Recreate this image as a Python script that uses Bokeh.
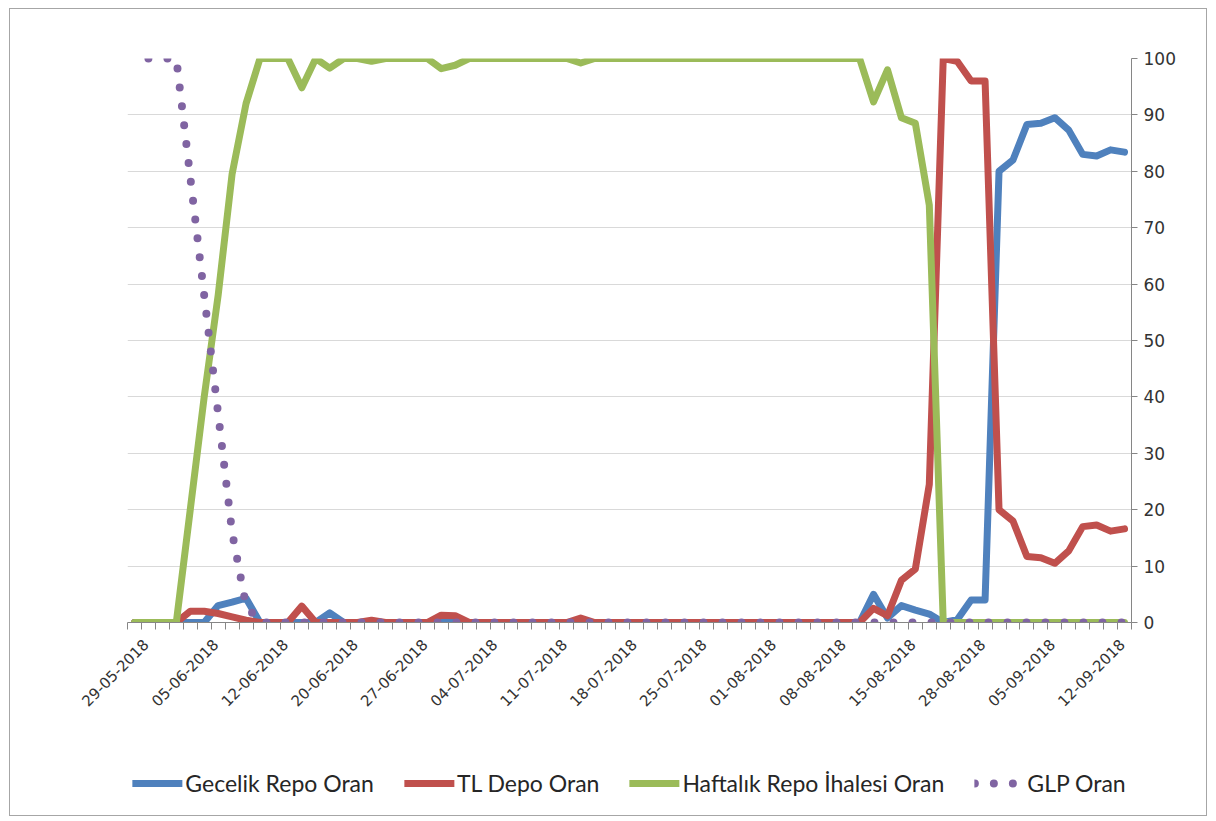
import math
import numpy as np
from bokeh.plotting import figure
from bokeh.layouts import column
from bokeh.models import FixedTicker, Legend, LegendItem
from bokeh.core.properties import value
from bokeh.embed import file_html
from bokeh.resources import INLINE

dates = [
    "29-05-2018", "30-05-2018", "31-05-2018", "01-06-2018", "04-06-2018",
    "05-06-2018", "06-06-2018", "07-06-2018", "08-06-2018", "11-06-2018",
    "12-06-2018", "13-06-2018", "14-06-2018", "18-06-2018", "19-06-2018",
    "20-06-2018", "21-06-2018", "22-06-2018", "25-06-2018", "26-06-2018",
    "27-06-2018", "28-06-2018", "29-06-2018", "02-07-2018", "03-07-2018",
    "04-07-2018", "05-07-2018", "06-07-2018", "09-07-2018", "10-07-2018",
    "11-07-2018", "12-07-2018", "13-07-2018", "16-07-2018", "17-07-2018",
    "18-07-2018", "19-07-2018", "20-07-2018", "23-07-2018", "24-07-2018",
    "25-07-2018", "26-07-2018", "27-07-2018", "30-07-2018", "31-07-2018",
    "01-08-2018", "02-08-2018", "03-08-2018", "06-08-2018", "07-08-2018",
    "08-08-2018", "09-08-2018", "10-08-2018", "13-08-2018", "14-08-2018",
    "15-08-2018", "16-08-2018", "17-08-2018", "20-08-2018", "27-08-2018",
    "28-08-2018", "29-08-2018", "31-08-2018", "03-09-2018", "04-09-2018",
    "05-09-2018", "06-09-2018", "07-09-2018", "10-09-2018", "11-09-2018",
    "12-09-2018", "13-09-2018",
]

gecelik = [
    0, 0, 0, 0, 0, 0, 3.0, 3.6, 4.3, 0,
    0, 0, 0, 0, 1.7, 0, 0, 0, 0, 0,
    0, 0, 0, 0, 0, 0, 0, 0, 0, 0,
    0, 0, 0, 0, 0, 0, 0, 0, 0, 0,
    0, 0, 0, 0, 0, 0, 0, 0, 0, 0,
    0, 0, 0, 5.0, 0.8, 3.0, 2.2, 1.5, 0, 0.5,
    4.0, 4.0, 80.0, 82.0, 88.3, 88.5, 89.5, 87.3, 83.0, 82.7,
    83.8, 83.4,
]

tl_depo = [
    0, 0, 0, 0, 2.0, 2.0, 1.6, 1.0, 0.4, 0,
    0, 0, 2.9, 0, 0, 0, 0, 0.4, 0, 0,
    0, 0, 1.3, 1.2, 0, 0, 0, 0, 0, 0,
    0, 0, 0.8, 0, 0, 0, 0, 0, 0, 0,
    0, 0, 0, 0, 0, 0, 0, 0, 0, 0,
    0, 0, 0, 2.5, 1.2, 7.5, 9.5, 24.5, 100.0, 99.5,
    96.0, 96.0, 20.0, 18.0, 11.7, 11.5, 10.5, 12.7, 17.0, 17.3,
    16.2, 16.6,
]

haftalik = [
    0, 0, 0, 0, 20, 40, 58, 79.5, 92, 100,
    100, 100, 94.8, 100, 98.3, 100, 100, 99.5, 100, 100,
    100, 100, 98.2, 98.8, 100, 100, 100, 100, 100, 100,
    100, 100, 99.2, 100, 100, 100, 100, 100, 100, 100,
    100, 100, 100, 100, 100, 100, 100, 100, 100, 100,
    100, 100, 100, 92.3, 98.0, 89.5, 88.5, 74.0, 0, 0,
    0, 0, 0, 0, 0, 0, 0, 0, 0, 0,
    0, 0,
]

glp = [
    np.nan, 100, 100, 100, 79, 58, 37, 16, 3, 0,
    0, 0, 0, 0, 0, 0, 0, 0, 0, 0,
    0, 0, 0, 0, 0, 0, 0, 0, 0, 0,
    0, 0, 0, 0, 0, 0, 0, 0, 0, 0,
    0, 0, 0, 0, 0, 0, 0, 0, 0, 0,
    0, 0, 0, 0, 0, 0, 0, 0, 0, 0,
    0, 0, 0, 0, 0, 0, 0, 0, 0, 0,
    0, 0,
]

series_names = ["Gecelik Repo Oran", "TL Depo Oran", "Haftalık Repo İhalesi Oran", "GLP Oran"]
y_ticks = [0, 10, 20, 30, 40, 50, 60, 70, 80, 90, 100]
label_step = 5
label_shift = 0.8  # rotated labels sit slightly right of their category, as in the original

styles = [
    dict(line_color="#4F81BD", line_width=7, line_join="round", line_cap="round"),
    dict(line_color="#C0504D", line_width=7, line_join="round", line_cap="round"),
    dict(line_color="#9BBB59", line_width=7, line_join="round", line_cap="round"),
    dict(line_color="#8064A2", line_width=8, line_dash="0 19", line_cap="round"),
]

n = len(dates)
x = np.arange(n)

p = figure(
    width=1196, height=741,
    output_backend="svg", toolbar_location=None,
    x_range=(-0.5, n - 0.5), y_range=(0, 100),
    y_axis_location="right",
    min_border_left=117, min_border_right=75,
    min_border_top=49, min_border_bottom=128,
)
p.outline_line_color = None
p.background_fill_color = "white"
p.border_fill_color = "white"

# x axis: labels at every 5th category, tick marks at category boundaries
label_pos = list(range(0, n, label_step))
p.xaxis.ticker = FixedTicker(ticks=[i + label_shift for i in label_pos],
                             minor_ticks=[i - 0.5 for i in range(n + 1)])
p.xaxis.major_label_overrides = {i + label_shift: dates[i] for i in label_pos}
p.xaxis.major_label_orientation = math.pi / 4
p.xaxis.major_tick_line_color = None
p.xaxis.minor_tick_line_color = "#868686"
p.xaxis.minor_tick_in = 0
p.xaxis.minor_tick_out = 7
p.xaxis.axis_line_color = "#868686"
p.xaxis.major_label_text_font = "DejaVu Sans"
p.xaxis.major_label_text_font_size = "15px"
p.xaxis.major_label_text_color = "#333333"
p.xaxis.major_label_standoff = 12
p.xgrid.visible = False

# y axis on the right
p.yaxis.ticker = FixedTicker(ticks=y_ticks)
p.yaxis.axis_line_color = "#868686"
p.yaxis.major_tick_line_color = "#868686"
p.yaxis.major_tick_in = 0
p.yaxis.major_tick_out = 6
p.yaxis.minor_tick_line_color = None
p.yaxis.major_label_text_font = "DejaVu Sans"
p.yaxis.major_label_text_font_size = "17px"
p.yaxis.major_label_text_color = "#333333"
p.yaxis.major_label_standoff = 6
p.ygrid.grid_line_color = "#D9D9D9"
p.ygrid.grid_line_width = 1

series = [gecelik, tl_depo, haftalik, glp]
for vals, st in zip(series, styles):
    p.line(x, np.array(vals, dtype=float), **st)

# legend strip below the chart: legend-only proxies carrying no drawable points
lf = figure(
    width=1196, height=65,
    output_backend="svg", toolbar_location=None,
    x_range=(0, 1), y_range=(0, 1),
    min_border=0,
)
lf.axis.visible = False
lf.grid.visible = False
lf.outline_line_color = None
lf.background_fill_color = "white"
lf.border_fill_color = "white"
nan_pair = np.array([np.nan, np.nan])
proxies = [lf.line(nan_pair, nan_pair, **st) for st in styles]

legend = Legend(
    items=[LegendItem(label=value(nm), renderers=[r]) for nm, r in zip(series_names, proxies)],
    orientation="horizontal",
    location="center",
    glyph_width=50, glyph_height=20,
    label_standoff=3, spacing=30,
    padding=0, margin=0,
    border_line_color=None, background_fill_alpha=0,
    label_text_font="Lato", label_text_font_size="23px",
    label_text_color="#262626",
)
lf.add_layout(legend)

layout = column(p, lf, spacing=0)
layout.styles = {"border": "1px solid #A6A6A6", "margin-left": "9px", "margin-top": "8px"}

open("out.html", "w").write(file_html(layout, INLINE))
